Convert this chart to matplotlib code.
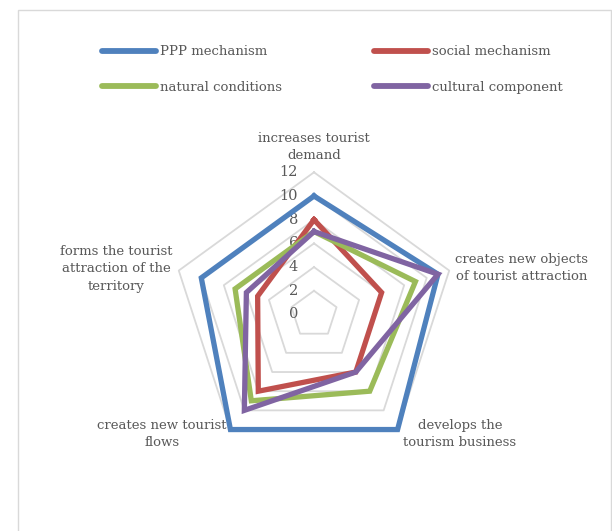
import numpy as np
import matplotlib
matplotlib.use("Agg")
import matplotlib.pyplot as plt
from matplotlib.patches import Rectangle
import matplotlib.transforms as mtransforms

# data
categories = ["increases tourist\ndemand",
              "creates new objects\nof tourist attraction",
              "develops the\ntourism business",
              "creates new tourist\nflows",
              "forms the tourist\nattraction of the\nterritory"]
ppp = [10, 11, 12, 12, 10]
social = [8, 6, 6, 8, 5]
natural = [7, 9, 8, 9, 7]
cultural = [7, 11, 6, 10, 6]
series_names = ["PPP mechanism", "social mechanism", "natural conditions", "cultural component"]
colors = ["#4F81BD", "#C0504D", "#9BBB59", "#8064A2"]
grid_levels = [2, 4, 6, 8, 10, 12]
tick_levels = [0, 2, 4, 6, 8, 10, 12]

W, H = 612, 531
TXT = "#595959"
FONT = "DejaVu Serif"
FS = 9.5

fig = plt.figure(figsize=(W / 100, H / 100), dpi=100)

# chart frame
fig.patches.append(Rectangle((18 / W, -0.01), (611 - 18) / W, (H - 10) / H + 0.01,
                             transform=fig.transFigure, fill=False,
                             edgecolor="#D9D9D9", linewidth=1.0))

cx, cy, R = 314, 314.5, 142.2
ax = fig.add_axes([(cx - R) / W, (H - cy - R) / H, 2 * R / W, 2 * R / H], projection="polar")
ax.set_theta_offset(np.pi / 2)
ax.set_theta_direction(-1)
ax.set_ylim(0, 12)
ax.grid(False)
ax.spines["polar"].set_visible(False)
ax.set_xticks([])
ax.set_yticks([])
ax.patch.set_alpha(0)

n = len(categories)
angles = np.linspace(0, 2 * np.pi, n, endpoint=False)
closed = np.append(angles, angles[0])

for lv in grid_levels:
    ax.plot(closed, [lv] * (n + 1), color="#D9D9D9", lw=1.3, clip_on=False, zorder=1)

handles = []
for vals, name, c in zip([ppp, social, natural, cultural], series_names, colors):
    h, = ax.plot(closed, list(vals) + [vals[0]], color=c, lw=3.8, label=name,
                 clip_on=False, zorder=3, solid_joinstyle="miter")
    handles.append(h)

# radial tick labels next to the top axis
off = mtransforms.offset_copy(ax.transData, fig=fig, x=-16 / 100 * 72, y=0, units="points")
for lv in tick_levels:
    ax.text(0, lv, str(lv), transform=off, ha="right", va="center",
            fontsize=FS + 1, color=TXT, family=FONT, zorder=2)

# category labels
def ftext(x, y, s, ha):
    fig.text(x / W, 1 - y / H, s, ha=ha, va="center", fontsize=FS, color=TXT,
             family=FONT, linespacing=1.45, multialignment="center")

ftext(314, 147, categories[0], "center")
ftext(455, 268, categories[1], "left")
ftext(460, 434, categories[2], "center")
ftext(162, 434, categories[3], "center")
ftext(116, 269, categories[4], "center")

# legend filled column-wise, so order gives rows: PPP/social, natural/cultural
order = [0, 2, 1, 3]
leg = fig.legend(handles=[handles[i] for i in order],
                 labels=[series_names[i] for i in order],
                 loc="upper left", bbox_to_anchor=(90 / W, 1 - 33.5 / H), ncol=2,
                 frameon=False, handlelength=4.1, handletextpad=0.28,
                 columnspacing=7.0, labelspacing=1.7,
                 prop={"family": FONT, "size": FS})
for t in leg.get_texts():
    t.set_color(TXT)
for l in leg.get_lines():
    l.set_linewidth(4.2)
    l.set_solid_capstyle("round")

fig.savefig("out.png", dpi=100)
